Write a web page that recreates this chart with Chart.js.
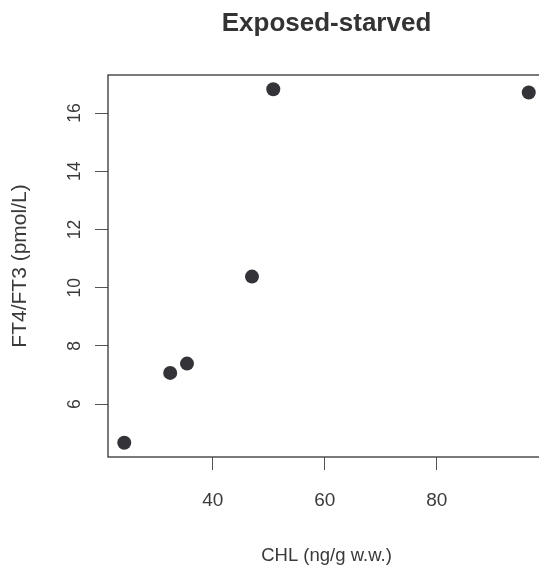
<!DOCTYPE html>
<html>
<head>
<meta charset="utf-8">
<script src="https://cdn.jsdelivr.net/npm/chart.js@4.4.9/dist/chart.umd.min.js"></script>
<style>
    html, body { margin: 0; padding: 0; background: #ffffff; overflow: hidden; }
    canvas { display: block; }
</style>
</head>
<body>
<canvas id="scatterChart" width="560" height="571"></canvas>
<script>
const chlValues = [24.2, 32.4, 35.4, 47.0, 50.8, 96.4];
const ratioValues = [4.67, 7.07, 7.39, 10.38, 16.82, 16.71];
const xTicks = [40, 60, 80];
const yTicks = [6, 8, 10, 12, 14, 16];

const textColor = '#3a3a3a';
const fontFamily = "'Liberation Sans', Arial, Helvetica, sans-serif";

// R style frame round the plot region
const boxPlugin = {
    id: 'boxFrame',
    afterDraw(chart) {
        const { ctx, chartArea } = chart;
        ctx.save();
        ctx.strokeStyle = '#333333';
        ctx.lineWidth = 1.3;
        ctx.strokeRect(chartArea.left, chartArea.top, chartArea.right - chartArea.left, chartArea.bottom - chartArea.top);
        ctx.restore();
    }
};

const points = chlValues.map((x, i) => ({ x, y: ratioValues[i] }));

new Chart(document.getElementById('scatterChart').getContext('2d'), {
    type: 'scatter',
    data: {
        datasets: [{
            data: points,
            backgroundColor: '#333338',
            borderWidth: 0,
            pointRadius: 7,
            pointHoverRadius: 7
        }]
    },
    plugins: [boxPlugin],
    options: {
        responsive: false,
        animation: false,
        devicePixelRatio: 1,
        layout: { padding: { left: 0, right: 15, top: 0, bottom: 0 } },
        plugins: {
            legend: { display: false },
            tooltip: { enabled: false },
            title: {
                display: true,
                fullSize: false,
                text: 'Exposed-starved',
                color: '#333333',
                font: { family: fontFamily, size: 26, weight: 'bold', lineHeight: 1.2 },
                padding: { top: 8, bottom: 35.8 }
            }
        },
        scales: {
            x: {
                type: 'linear',
                min: 21.3,
                max: 99.3,
                afterBuildTicks: scale => { scale.ticks = xTicks.map(value => ({ value })); },
                afterFit: scale => { scale.height = 114; },
                border: { display: false },
                grid: { drawOnChartArea: false, drawTicks: true, tickLength: 13, tickColor: '#555555', tickWidth: 1 },
                ticks: { color: textColor, font: { family: fontFamily, size: 19 }, padding: 19, maxRotation: 0 },
                title: {
                    display: true,
                    text: 'CHL (ng/g w.w.)',
                    color: textColor,
                    font: { family: fontFamily, size: 18.5 },
                    padding: { top: 0, bottom: 4 }
                }
            },
            y: {
                type: 'linear',
                min: 4.18,
                max: 17.31,
                afterBuildTicks: scale => { scale.ticks = yTicks.map(value => ({ value })); },
                afterFit: scale => { scale.width = 108; },
                border: { display: false },
                grid: { drawOnChartArea: false, drawTicks: true, tickLength: 13, tickColor: '#555555', tickWidth: 1 },
                ticks: {
                    color: textColor,
                    font: { family: fontFamily, size: 17.5 },
                    padding: 10,
                    minRotation: 90,
                    maxRotation: 90,
                    crossAlign: 'center'
                },
                title: {
                    display: true,
                    text: 'FT4/FT3 (pmol/L)',
                    color: textColor,
                    font: { family: fontFamily, size: 21 },
                    padding: { top: 8, bottom: 0 }
                }
            }
        }
    }
});
</script>
</body>
</html>
